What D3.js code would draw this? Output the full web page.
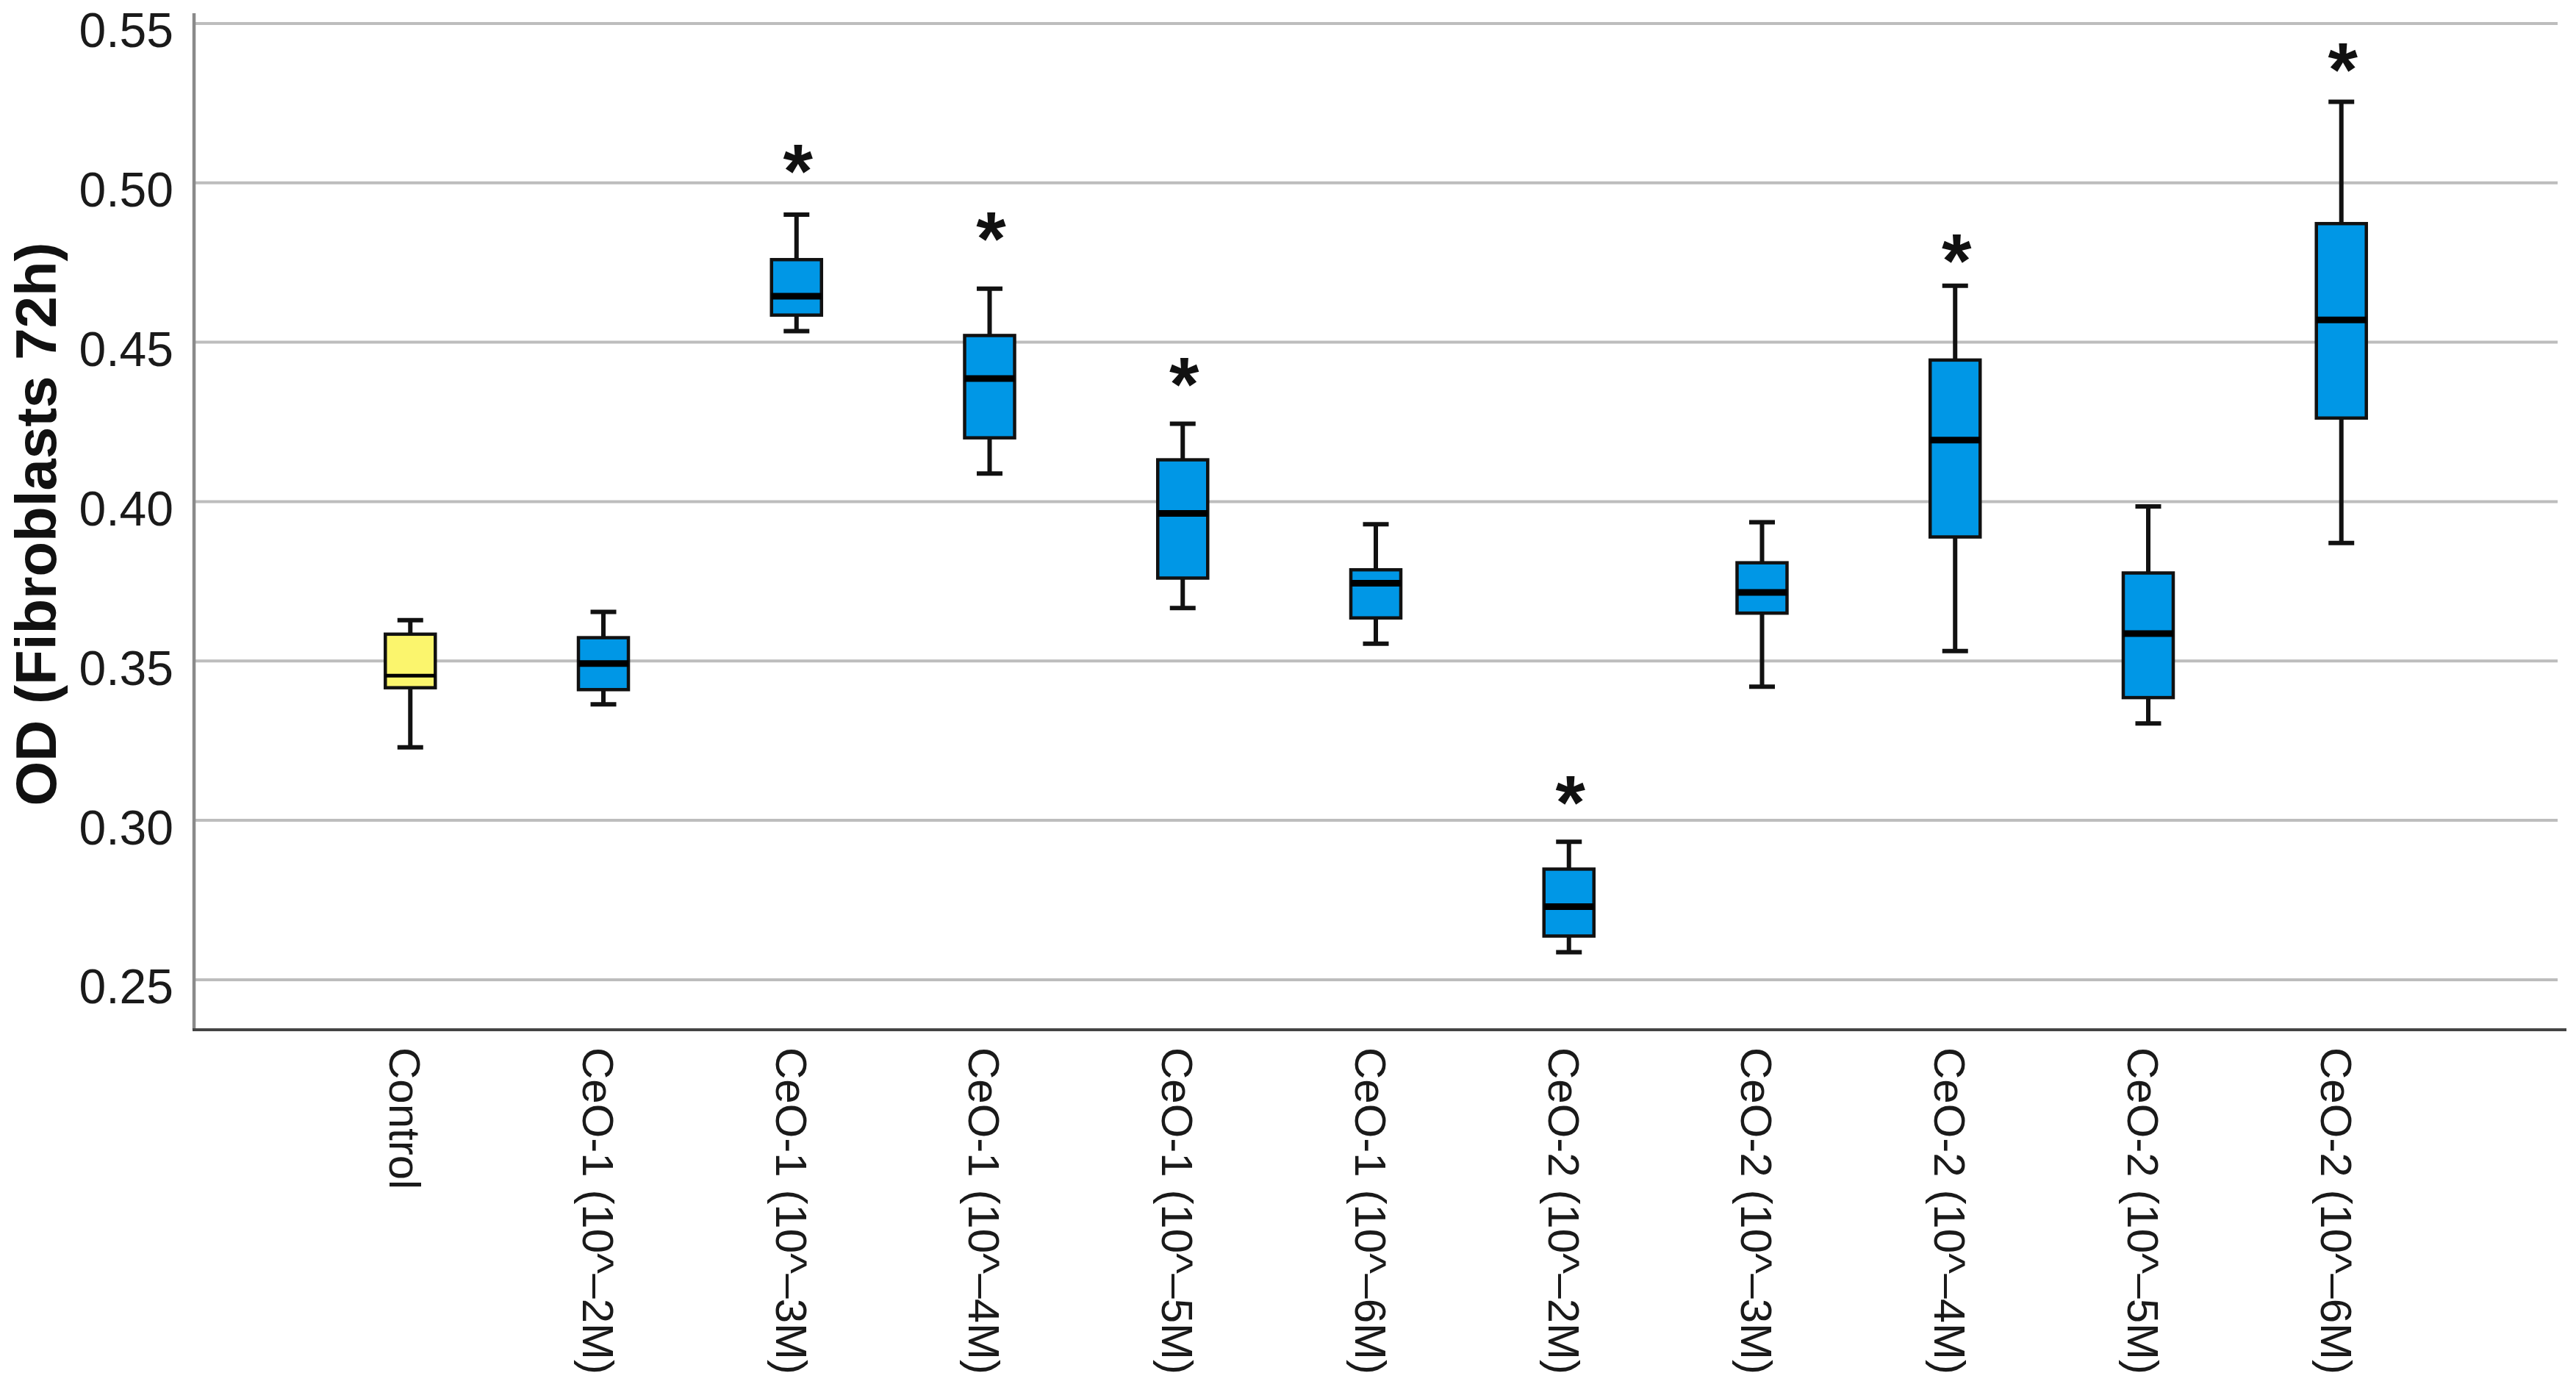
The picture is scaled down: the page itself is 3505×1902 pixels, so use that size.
<!DOCTYPE html>
<html>
<head>
<meta charset="utf-8">
<script src="https://cdn.jsdelivr.net/npm/d3@7"></script>
<style>
  html, body { margin: 0; padding: 0; background: #ffffff; }
  svg { display: block; }
</style>
</head>
<body>
<svg id="chart" width="3505" height="1902"></svg>
<script>
// ---------------- DATA ----------------
const categories = [
  "Control",
  "CeO-1 (10^\u20132M)",
  "CeO-1 (10^\u20133M)",
  "CeO-1 (10^\u20134M)",
  "CeO-1 (10^\u20135M)",
  "CeO-1 (10^\u20136M)",
  "CeO-2 (10^\u20132M)",
  "CeO-2 (10^\u20133M)",
  "CeO-2 (10^\u20134M)",
  "CeO-2 (10^\u20135M)",
  "CeO-2 (10^\u20136M)"
];
const groups = ["Control", "CeO-1", "CeO-1", "CeO-1", "CeO-1", "CeO-1",
                "CeO-2", "CeO-2", "CeO-2", "CeO-2", "CeO-2"];
const whiskerLow  = [0.3229, 0.3364, 0.4535, 0.4088, 0.3666, 0.3554, 0.2586, 0.3419, 0.3531, 0.3304, 0.3870];
const quartile1   = [0.3416, 0.3410, 0.4585, 0.4200, 0.3760, 0.3635, 0.2637, 0.3650, 0.3889, 0.3385, 0.4262];
const medians     = [0.3454, 0.3492, 0.4644, 0.4386, 0.3963, 0.3744, 0.2729, 0.3715, 0.4193, 0.3586, 0.4570];
const quartile3   = [0.3584, 0.3573, 0.4759, 0.4521, 0.4131, 0.3786, 0.2847, 0.3808, 0.4444, 0.3776, 0.4872];
const whiskerHigh = [0.3628, 0.3654, 0.4900, 0.4668, 0.4244, 0.3929, 0.2933, 0.3935, 0.4677, 0.3985, 0.5254];
// position (in OD units) of the significance markers, null = none
const starValues  = [null, null, 0.5092, 0.4880, 0.4424, null, 0.3110, null, 0.4810, null, 0.5410];
const yTicks = [0.25, 0.30, 0.35, 0.40, 0.45, 0.50, 0.55];
const yTitle = "OD (Fibroblasts 72h)";

(function () {
// ---------------- LAYOUT ----------------
const svg = d3.select("#chart");
const mLeft = 264, mRight = 3480, mTop = 18, mBottom = 1401;
const font = "'Liberation Sans', Arial, Helvetica, sans-serif";

const y = d3.scaleLinear().domain([0.2343, 0.5532]).range([mBottom, mTop]);
const x = d3.scalePoint().domain(categories).range([mLeft, mRight]).padding(1.12);

const fillColor = d3.scaleOrdinal().domain(["Control", "CeO-1", "CeO-2"])
  .range(["#fbf56d", "#0097e6", "#0097e6"]);

// gridlines
svg.append("g").selectAll("line").data(yTicks).join("line")
  .attr("x1", mLeft).attr("x2", mRight)
  .attr("y1", d => y(d)).attr("y2", d => y(d))
  .attr("stroke", "#bdbdbd").attr("stroke-width", 4);

// y axis labels via d3.axisLeft
const yAxis = svg.append("g").attr("transform", `translate(${mLeft},0)`)
  .call(d3.axisLeft(y).tickValues(yTicks).tickFormat(d3.format(".2f")).tickSize(0).tickPadding(28));
yAxis.select(".domain").remove();
yAxis.selectAll("text")
  .attr("font-family", font).attr("font-size", 66).attr("fill", "#1a1a1a")
  .attr("dy", 32).attr("x", -28);

// axis lines
svg.append("line").attr("x1", mLeft).attr("x2", mLeft).attr("y1", mTop).attr("y2", mBottom)
  .attr("stroke", "#8a8a8a").attr("stroke-width", 4.5);
svg.append("line").attr("x1", mLeft - 2).attr("x2", 3492).attr("y1", mBottom).attr("y2", mBottom)
  .attr("stroke", "#444").attr("stroke-width", 4);

// x labels (rotated clockwise)
const xAxis = svg.append("g").attr("transform", `translate(0,${mBottom})`)
  .call(d3.axisBottom(x).tickSize(0).tickPadding(0));
xAxis.select(".domain").remove();
xAxis.selectAll(".tick text")
  .attr("font-family", font).attr("font-size", 60).attr("fill", "#1a1a1a")
  .attr("text-anchor", "start")
  .attr("transform", "translate(-7,24) rotate(90)")
  .attr("x", 0).attr("y", 0).attr("dy", "0.36em");

// y title
svg.append("text")
  .attr("transform", `translate(76,713) rotate(-90)`)
  .attr("text-anchor", "middle")
  .attr("font-family", font).attr("font-size", 78).attr("font-weight", "bold")
  .attr("fill", "#111")
  .text(yTitle);

// ---------------- BOXES ----------------
const boxW = 68, capW = 35;
const data = categories.map((c, i) => ({
  c, g: groups[i], lo: whiskerLow[i], q1: quartile1[i], med: medians[i],
  q3: quartile3[i], hi: whiskerHigh[i], star: starValues[i]
}));

const bx = svg.append("g").selectAll("g").data(data).join("g")
  .attr("transform", d => `translate(${x(d.c)},0)`);

// whisker stems
bx.append("line").attr("x1", 0).attr("x2", 0)
  .attr("y1", d => y(d.hi)).attr("y2", d => y(d.q3))
  .attr("stroke", "#111").attr("stroke-width", 6);
bx.append("line").attr("x1", 0).attr("x2", 0)
  .attr("y1", d => y(d.q1)).attr("y2", d => y(d.lo))
  .attr("stroke", "#111").attr("stroke-width", 6);
// caps
bx.append("line").attr("x1", -capW / 2).attr("x2", capW / 2)
  .attr("y1", d => y(d.hi)).attr("y2", d => y(d.hi))
  .attr("stroke", "#111").attr("stroke-width", 6);
bx.append("line").attr("x1", -capW / 2).attr("x2", capW / 2)
  .attr("y1", d => y(d.lo)).attr("y2", d => y(d.lo))
  .attr("stroke", "#111").attr("stroke-width", 6);
// box
bx.append("rect")
  .attr("x", -boxW / 2).attr("width", boxW)
  .attr("y", d => y(d.q3)).attr("height", d => y(d.q1) - y(d.q3))
  .attr("fill", d => fillColor(d.g))
  .attr("stroke", "#111").attr("stroke-width", 4.5);
// median
bx.append("line").attr("x1", -boxW / 2).attr("x2", boxW / 2)
  .attr("y1", d => y(d.med)).attr("y2", d => y(d.med))
  .attr("stroke", "#000").attr("stroke-width", d => d.g === "Control" ? 5 : 9);

// significance stars
bx.filter(d => d.star !== null).append("text")
  .attr("text-anchor", "middle")
  .attr("x", 2)
  .attr("y", d => y(d.star) + 60)
  .attr("font-family", font).attr("font-size", 104).attr("font-weight", "bold")
  .attr("fill", "#111")
  .text("*");
})();
</script>
</body>
</html>
